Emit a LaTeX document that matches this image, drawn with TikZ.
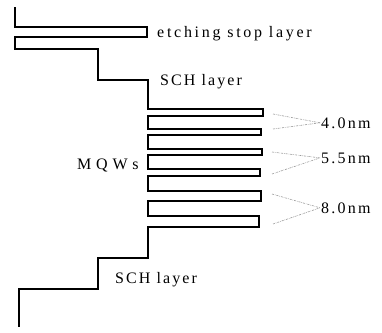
\documentclass[tikz,border=0pt]{standalone}
\usepackage{fontspec}
\setmainfont{Liberation Serif}
\begin{document}
\begin{tikzpicture}[x=1pt,y=-1pt,
  layer/.style={line width=2.2pt, line join=miter, line cap=butt, black},
  lbl/.style={inner sep=0pt, anchor=base west},
  nmlbl/.style={inner sep=1pt, anchor=base west, font=\fontsize{16}{19}\selectfont\addfontfeature{LetterSpace=14}},
  pointer/.style={gray!80, line width=0.6pt, dash pattern=on 2pt off 1pt on 0.6pt off 1pt}]
\useasboundingbox (0,0) rectangle (382,332);
% band profile
\draw[layer] (15,7) -- (15,27) -- (147,27) -- (147,37) -- (15,37) -- (15,49)
  -- (98,49) -- (98,80) -- (148,80) -- (148,109)
  -- (263,109) -- (263,116) -- (148,116) -- (148,129)
  -- (261,129) -- (261,135) -- (148,135) -- (148,149)
  -- (262,149) -- (262,155) -- (148,155) -- (148,169)
  -- (260,169) -- (260,176) -- (148,176) -- (148,191)
  -- (261,191) -- (261,201) -- (148,201) -- (148,216)
  -- (259,216) -- (259,227) -- (148,227) -- (148,258)
  -- (98,258) -- (98,289) -- (19,289) -- (19,327);
% labels
\node[lbl, font=\fontsize{16}{19}\selectfont\addfontfeature{LetterSpace=17}] (etch) at (157,37) {etching stop layer};
\node[lbl, font=\fontsize{16}{19}\selectfont\addfontfeature{LetterSpace=13}] (schtop) at (160,85) {SCH layer};
\node[lbl, font=\fontsize{16}{19}\selectfont\addfontfeature{LetterSpace=30}] (mqw) at (77,169) {MQWs};
\node[lbl, font=\fontsize{16}{19}\selectfont\addfontfeature{LetterSpace=13}] (schbot) at (115,283) {SCH layer};
\node[nmlbl] (n40) at (320,128) {4.0nm};
\node[nmlbl] (n55) at (320,163) {5.5nm};
\node[nmlbl] (n80) at (320,213) {8.0nm};
% pointer origins
\coordinate (a1) at (273,114);
\coordinate (a2) at (273,129);
\coordinate (b1) at (272,152);
\coordinate (b2) at (272,174);
\coordinate (c1) at (272,194);
\coordinate (c2) at (273,224);
\draw[pointer] (a1) -- (n40.west);
\draw[pointer] (a2) -- (n40.west);
\draw[pointer] (b1) -- (n55.west);
\draw[pointer] (b2) -- (n55.west);
\draw[pointer] (c1) -- (n80.west);
\draw[pointer] (c2) -- (n80.west);
\end{tikzpicture}
\end{document}
